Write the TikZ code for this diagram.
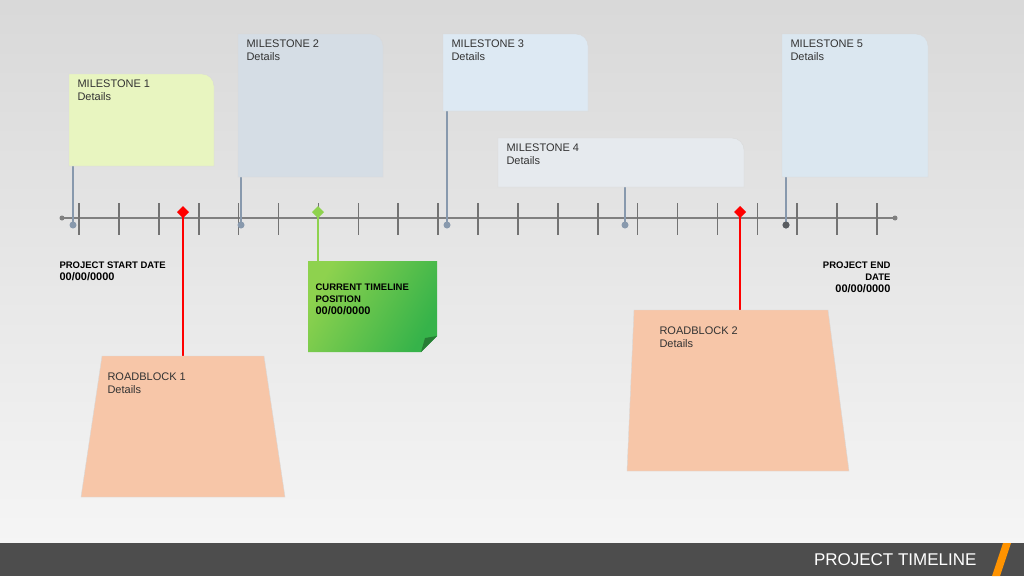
\documentclass[tikz,border=0pt]{standalone}
\usepackage{fontspec}
\setmainfont{Liberation Sans}
\usetikzlibrary{positioning}
\definecolor{mOne}{HTML}{E8F5C0}
\definecolor{mTwo}{HTML}{D5DDE5}
\definecolor{mThree}{HTML}{DDE9F3}
\definecolor{mFour}{HTML}{E6EAEE}
\definecolor{mFive}{HTML}{DBE7F0}
\definecolor{stem}{HTML}{8899AD}
\definecolor{rbFill}{HTML}{F7C6A8}
\definecolor{barGray}{HTML}{4D4D4D}
\definecolor{nowLight}{HTML}{8ED24E}
\definecolor{nowDark}{HTML}{36B34A}
\tikzset{
    cardtext/.style={anchor=north west, align=left, font=\fontsize{11}{13}\selectfont, text=black!80},
    stemline/.style={draw=stem, line width=1.6pt},
    rbline/.style={draw=red, line width=2pt},
    boldtext/.style={font=\bfseries\fontsize{9.5}{12}\selectfont, align=left}
}
\begin{document}
\begin{tikzpicture}[x=1pt,y=-1pt]
		% background
		\shade[top color=black!15, bottom color=black!4] (0,0) rectangle (1024,543);
		\fill[barGray] (0,543) rectangle (1024,576);
		\fill[orange!85!yellow] (1003,543) -- (1011,543) -- (1000,576) -- (992,576) -- cycle;
		\node[anchor=east, text=white, font=\fontsize{17}{20}\selectfont] (title) at (980,560) {PROJECT TIMELINE};

		% timeline axis
		\draw[gray, line width=1.6pt] (62,218) -- (895,218);
		\fill[gray] (62,218) circle (2.5);
		\fill[gray] (895,218) circle (2.5);
		\foreach \k in {0,...,20}
			\draw[black!55, line width=1.6pt] (79+39.9*\k,203) -- (79+39.9*\k,235);

		% milestones
		\foreach \xa/\ya/\xb/\yb/\col/\num/\sx/\sy in {
			69/74/214/166/mOne/1/73/166,
			238/34/383/177/mTwo/2/241/177,
			443/34/588/111/mThree/3/447/111,
			498/138/744/187/mFour/4/625/187,
			782/34/928/177/mFive/5/786/177}{
			\draw[stemline] (\sx,\sy) -- (\sx,225);
			\fill[stem] (\sx,225) circle (3.5);
			\fill[\col, draw=gray!30] (\xa,\ya) -- (\xb-12,\ya) to[out=0,in=90] (\xb,\ya+12) -- (\xb,\yb) -- (\xa,\yb) -- cycle;
			\node[cardtext] (ms\num) at (\xa+5,\ya+2) {MILESTONE \num\\Details};
		}
		\fill[barGray!80!stem] (786,225) circle (3.5);

		% start and end dates
		\node[boldtext, anchor=north west] (start) at (56,258) {PROJECT START DATE\\{\fontsize{11}{13}\selectfont 00/00/0000}};
		\node[boldtext, anchor=north east, align=right] (finish) at (894,258) {PROJECT END\\DATE\\{\fontsize{11}{13}\selectfont 00/00/0000}};

		% current position
		\draw[nowLight, line width=2pt] (318,212) -- (318,261);
		\fill[nowLight] (318,206) -- (324,212) -- (318,218) -- (312,212) -- cycle;
		\shade[left color=nowLight, right color=nowDark, shading angle=60] (308,261) -- (437,261) -- (437,336) -- (421,352) -- (308,352) -- cycle;
		\fill[nowDark!70!black] (437,336) -- (421,352) -- (425,338) -- cycle;
		\node[boldtext, anchor=north west] (now) at (312,280) {CURRENT TIMELINE\\POSITION\\{\fontsize{11}{13}\selectfont 00/00/0000}};

		% roadblocks
		\foreach \dx/\ty/\tl/\tr/\by/\bl/\br/\tx/\num in {
			183/356/102/264/497/81/285/104/1,
			740/310/634/828/471/627/849/656/2}{
			\draw[rbline] (\dx,212) -- (\dx,\ty);
			\fill[red] (\dx,206) -- (\dx+6,212) -- (\dx,218) -- (\dx-6,212) -- cycle;
			\fill[rbFill, draw=gray!30] (\tl,\ty) -- (\tr,\ty) -- (\br,\by) -- (\bl,\by) -- cycle;
			\node[cardtext] (rb\num) at (\tx,\ty+13) {ROADBLOCK \num\\Details};
		}
	\end{tikzpicture}
\end{document}
